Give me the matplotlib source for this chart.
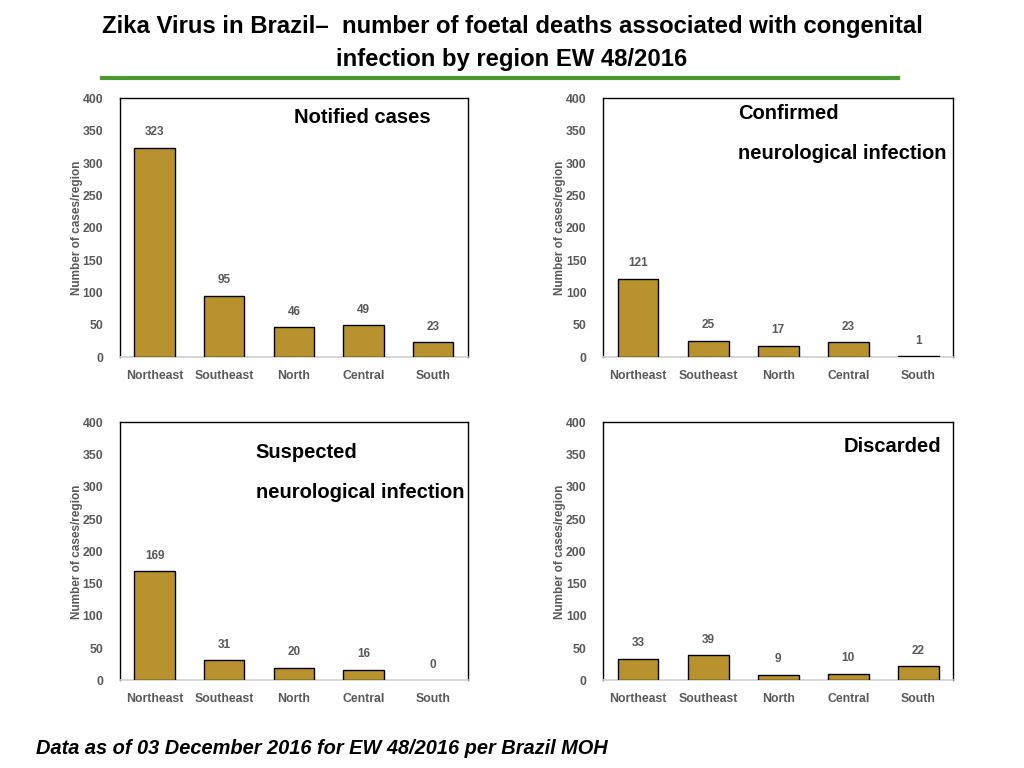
import matplotlib.pyplot as plt

regions = ["Northeast", "Southeast", "North", "Central", "South"]
notified = [323, 95, 46, 49, 23]
confirmed = [121, 25, 17, 23, 1]
suspected = [169, 31, 20, 16, 0]
discarded = [33, 39, 9, 10, 22]

plt.rcParams['font.family'] = ['Liberation Sans', 'DejaVu Sans']

bar_color = "#B8922F"
grey = "#595959"

fig = plt.figure(figsize=(10.24, 7.68), dpi=100)

# [left, bottom, width, height] in figure fractions
boxes = [
    [0.117, 0.535, 0.340, 0.337],
    [0.589, 0.535, 0.342, 0.337],
    [0.117, 0.114, 0.340, 0.336],
    [0.589, 0.114, 0.342, 0.336],
]
series = [notified, confirmed, suspected, discarded]
notes = [
    [("Notified cases", 0.50, 0.927)],
    [("Confirmed", 0.386, 0.942), ("neurological infection", 0.386, 0.788)],
    [("Suspected", 0.39, 0.884), ("neurological infection", 0.39, 0.729)],
    [("Discarded", 0.686, 0.907)],
]

for box, vals, txts in zip(boxes, series, notes):
    ax = fig.add_axes(box)
    bars = ax.bar(regions, vals, width=0.58, color=bar_color,
                  edgecolor="black", linewidth=1.0, zorder=3)
    # empty bars show no outline
    for b, v in zip(bars, vals):
        if v == 0:
            b.set_linewidth(0)
    ax.bar_label(bars, padding=7, fontsize=8.5, fontweight="bold", color=grey)
    ax.set_ylim(0, 400)
    ax.set_xlim(-0.5, 4.5)
    ax.set_yticks(range(0, 401, 50))
    ax.tick_params(axis="both", length=0, labelsize=8.8, labelcolor=grey)
    ax.tick_params(axis="y", pad=12)
    ax.tick_params(axis="x", pad=9)
    for lab in ax.get_xticklabels() + ax.get_yticklabels():
        lab.set_fontweight("bold")
    for s in ["left", "top", "right"]:
        ax.spines[s].set_color("black")
        ax.spines[s].set_linewidth(1.0)
    ax.spines["bottom"].set_color("#D0D0D0")
    ax.spines["bottom"].set_linewidth(1.2)
    ax.set_ylabel("Number of cases/region", fontsize=8.5, fontweight="bold",
                  color=grey, labelpad=0)
    for t, x, y in txts:
        ax.text(x, y, t, transform=ax.transAxes, fontsize=14.5,
                fontweight="bold", ha="left", va="center")

fig.text(0.5, 0.965, "Zika Virus in Brazil\u2013  number of foetal deaths associated with congenital",
         ha="center", va="center", fontsize=17.2, fontweight="bold")
fig.text(0.5, 0.923, "infection by region EW 48/2016",
         ha="center", va="center", fontsize=17.2, fontweight="bold")

fig.add_artist(plt.Line2D([0.1, 0.877], [0.899, 0.899], color="#4A9A2F",
                          linewidth=3))

fig.text(0.035, 0.026, "Data as of 03 December 2016 for EW 48/2016 per Brazil MOH",
         ha="left", va="center", fontsize=14.4, fontweight="bold", style="italic")

fig.savefig("out.png", dpi=100)
